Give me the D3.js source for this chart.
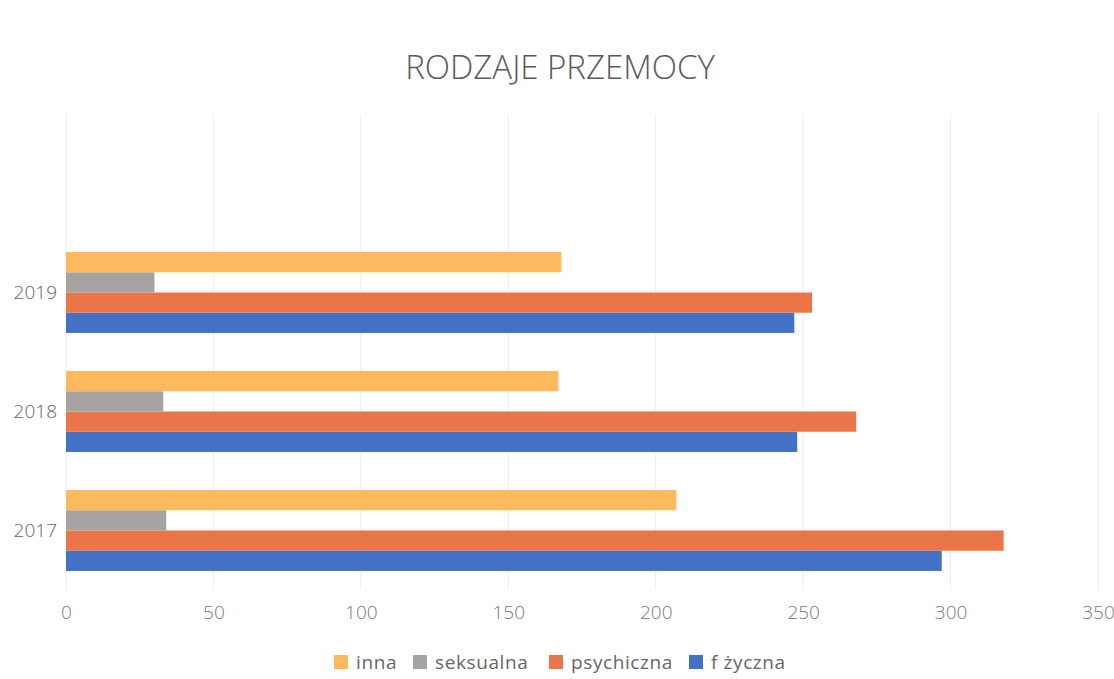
<!DOCTYPE html>
<html>
<head>
<meta charset="utf-8">
<script src="https://cdn.jsdelivr.net/npm/d3@7"></script>
<style>
  body { margin: 0; background: #fff; }
  svg { display: block; font-family: "Open Sans", "DejaVu Sans", sans-serif; }
</style>
</head>
<body>
<svg id="chart" width="1114" height="679"></svg>
<script>
"use strict";

// categories, bottom to top (top slot is an empty row in the sheet)
const years = ["2017", "2018", "2019", ""];
// series, drawn bottom to top inside each group
const seriesNames = ["f życzna", "psychiczna", "seksualna", "inna"];
const fizyczna   = [297, 248, 247, null];
const psychiczna = [318, 268, 253, null];
const seksualna  = [34, 33, 30, null];
const inna       = [207, 167, 168, null];
const xTicks = [0, 50, 100, 150, 200, 250, 300, 350];
const colors = ["#4371c3", "#e97548", "#a8a3a3", "#fcb95e"];

const svg = d3.select("#chart");
const margin = {left: 66, right: 1114 - 1098, top: 114, bottom: 679 - 590};
const width = 1114 - margin.left - margin.right;
const height = 679 - margin.top - margin.bottom;

const values = [fizyczna, psychiczna, seksualna, inna];
const rows = years.map((y, i) => ({year: y, vals: values.map(s => s[i])}));

const x = d3.scaleLinear().domain([0, 350]).range([0, width]);
const y = d3.scaleBand().domain(years).range([height, 0]).paddingInner(0.32).paddingOuter(0.16);
const ySub = d3.scaleBand().domain(d3.range(seriesNames.length)).range([y.bandwidth(), 0]);

// title
svg.append("text")
   .attr("x", 560).attr("y", 79)
   .attr("text-anchor", "middle")
   .attr("fill", "#5a5a5a")
   .style("font-size", "33px")
   .style("font-weight", 300)
   .text("RODZAJE PRZEMOCY");

const g = svg.append("g").attr("transform", `translate(${margin.left},${margin.top})`);

// gridlines
g.append("g")
 .selectAll("line")
 .data(xTicks)
 .join("line")
 .attr("x1", d => x(d)).attr("x2", d => x(d))
 .attr("y1", 0).attr("y2", height)
 .attr("stroke", "#ededed").attr("stroke-width", 1);

// bars
const grp = g.append("g")
  .selectAll("g")
  .data(rows)
  .join("g")
  .attr("transform", d => `translate(0,${y(d.year)})`);

grp.selectAll("rect")
   .data(d => d.vals.map((v, i) => ({v, i})).filter(d => d.v != null))
   .join("rect")
   .attr("x", 0)
   .attr("y", d => ySub(d.i))
   .attr("width", d => x(d.v))
   .attr("height", ySub.bandwidth())
   .attr("fill", d => colors[d.i]);

// x axis labels
const xaxis = g.append("g")
  .attr("transform", `translate(0,${height})`)
  .call(d3.axisBottom(x).tickValues(xTicks).tickSize(0).tickPadding(16));
xaxis.select(".domain").remove();
xaxis.selectAll("text")
  .attr("fill", "#7a7a7a")
  .style("font-size", "19px")
  .style("font-weight", 300)
  .style("font-family", "'Open Sans', sans-serif");

// y axis labels
const yaxis = g.append("g")
  .call(d3.axisLeft(y).tickSize(0).tickPadding(9));
yaxis.select(".domain").remove();
yaxis.selectAll("text")
  .attr("fill", "#666")
  .style("font-size", "19px")
  .style("font-weight", 300)
  .style("font-family", "'Open Sans', sans-serif");

// legend, order as shown in the picture
const legendItems = [3, 2, 1, 0];
const legendX = [334, 413, 549, 689];
const legend = svg.append("g").attr("transform", "translate(0,662)");
legendItems.forEach((si, k) => {
  const it = legend.append("g").attr("transform", `translate(${legendX[k]},0)`);
  it.append("rect")
    .attr("x", 0).attr("y", -7)
    .attr("width", 14).attr("height", 14)
    .attr("fill", colors[si]);
  it.append("text")
    .attr("x", 22).attr("y", 0)
    .attr("dy", "0.35em")
    .attr("fill", "#666")
    .style("font-size", "19px")
    .style("letter-spacing", "0.6px")
    .text(seriesNames[si]);
});
</script>
</body>
</html>
